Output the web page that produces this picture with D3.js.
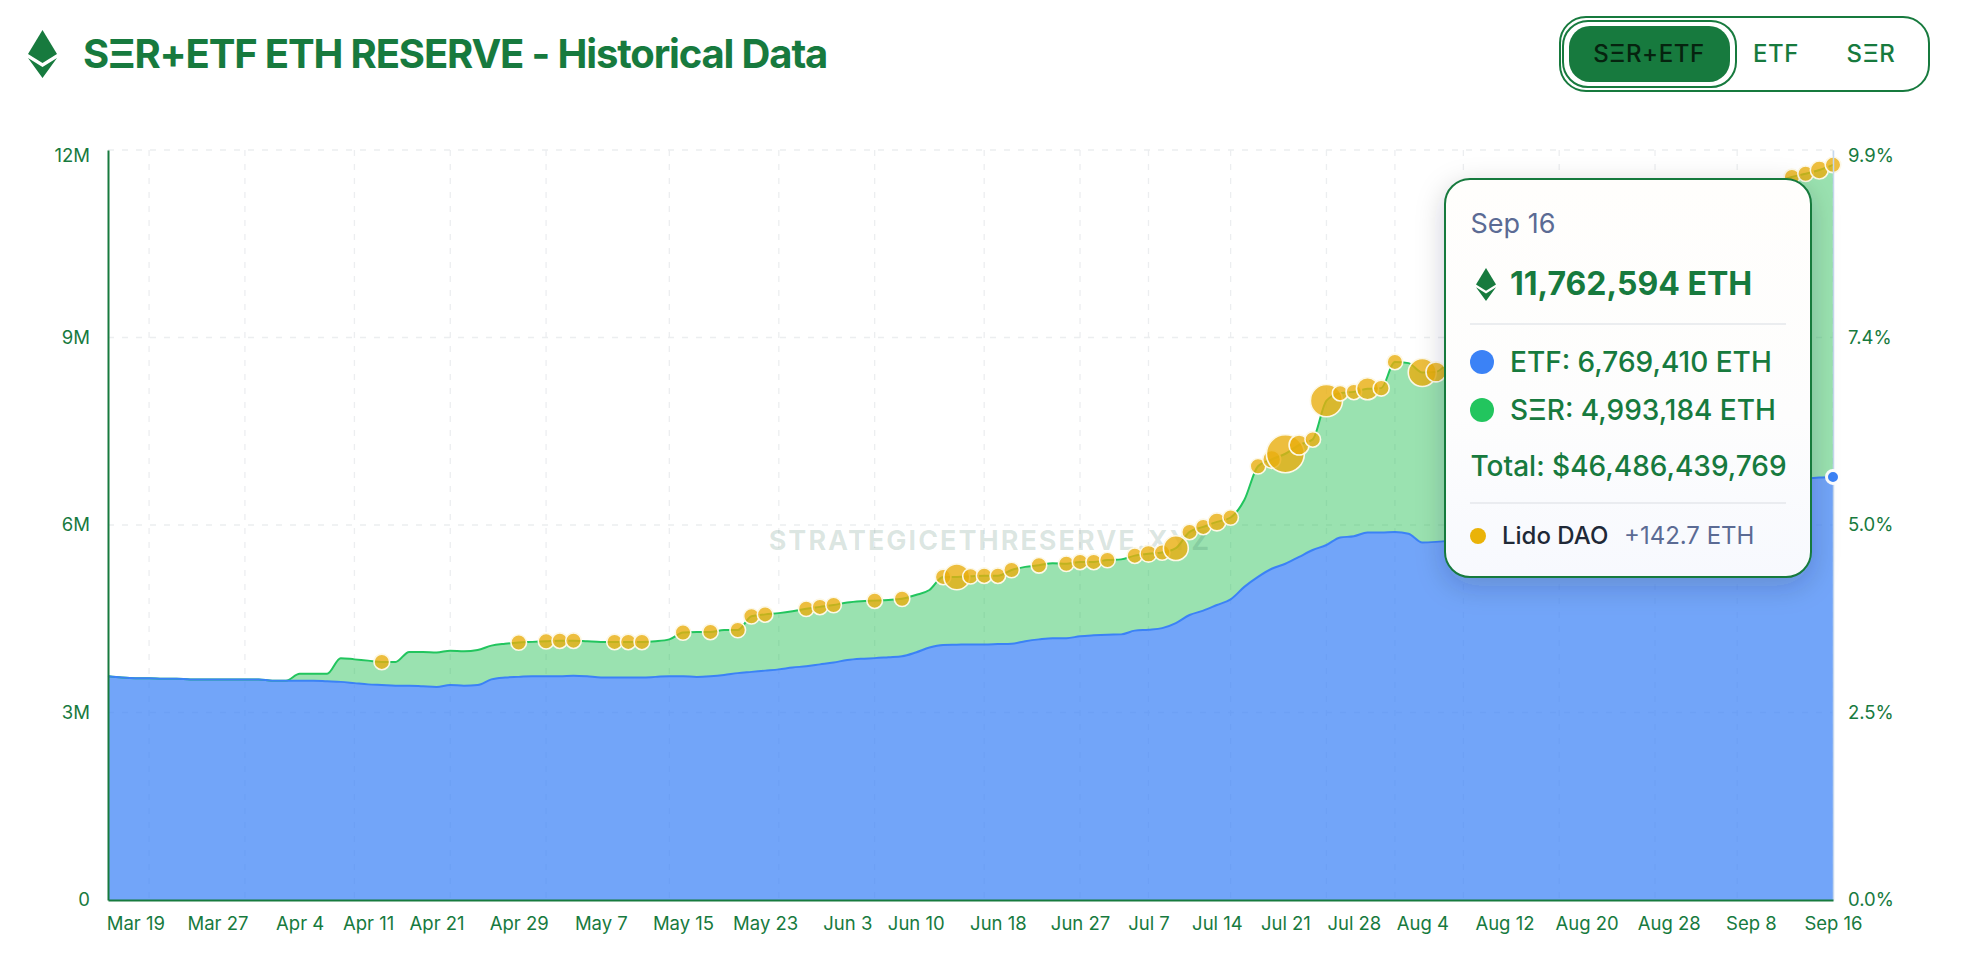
<!DOCTYPE html>
<html>
<head>
    <meta charset="utf-8">
    <title>SΞR+ETF ETH Reserve</title>
    <script src="https://d3js.org/d3.v7.min.js"></script>
    <style>
        html, body { margin: 0; background: #fff; }
        svg { display: block; font-family: Inter, "Noto Sans", sans-serif; }
    </style>
</head>
<body>
    <div id="chart"></div>

    <script>
        // US trading days, the chart's x categories
        const dates = [
            "Mar 17","Mar 18","Mar 19","Mar 20","Mar 21","Mar 24","Mar 25","Mar 26","Mar 27","Mar 28","Mar 31",
            "Apr 1","Apr 2","Apr 3","Apr 4","Apr 7","Apr 8","Apr 9","Apr 10","Apr 11","Apr 14","Apr 15","Apr 16","Apr 17","Apr 21","Apr 22","Apr 23","Apr 24","Apr 25","Apr 28","Apr 29","Apr 30",
            "May 1","May 2","May 5","May 6","May 7","May 8","May 9","May 12","May 13","May 14","May 15","May 16","May 19","May 20","May 21","May 22","May 23","May 27","May 28","May 29","May 30",
            "Jun 2","Jun 3","Jun 4","Jun 5","Jun 6","Jun 9","Jun 10","Jun 11","Jun 12","Jun 13","Jun 16","Jun 17","Jun 18","Jun 20","Jun 23","Jun 24","Jun 25","Jun 26","Jun 27","Jun 30",
            "Jul 1","Jul 2","Jul 3","Jul 7","Jul 8","Jul 9","Jul 10","Jul 11","Jul 14","Jul 15","Jul 16","Jul 17","Jul 18","Jul 21","Jul 22","Jul 23","Jul 24","Jul 25","Jul 28","Jul 29","Jul 30","Jul 31",
            "Aug 1","Aug 4","Aug 5","Aug 6","Aug 7","Aug 8","Aug 11","Aug 12","Aug 13","Aug 14","Aug 15","Aug 18","Aug 19","Aug 20","Aug 21","Aug 22","Aug 25","Aug 26","Aug 27","Aug 28","Aug 29",
            "Sep 2","Sep 3","Sep 4","Sep 5","Sep 8","Sep 9","Sep 10","Sep 11","Sep 12","Sep 15","Sep 16"
        ];

        // ETF holdings, million ETH
        const etfReserve = [
            3.58,3.56,3.55,3.55,3.54,3.54,3.53,3.53,3.53,3.53,3.53,
            3.53,3.51,3.51,3.51,3.51,3.50,3.49,3.47,3.45,3.44,3.43,3.43,3.42,3.41,3.44,3.43,3.44,3.53,3.56,3.57,3.58,
            3.58,3.58,3.59,3.58,3.56,3.56,3.56,3.56,3.57,3.58,3.58,3.57,3.58,3.60,3.63,3.65,3.67,3.69,3.72,3.74,3.77,
            3.80,3.84,3.86,3.87,3.885,3.90,3.96,4.04,4.08,4.085,4.09,4.09,4.095,4.10,4.14,4.17,4.19,4.19,4.22,4.235,
            4.245,4.25,4.31,4.325,4.35,4.43,4.56,4.63,4.72,4.81,5.01,5.17,5.30,5.38,5.49,5.60,5.68,5.80,5.82,5.88,5.88,5.89,
            5.86,5.72,5.73,5.75,5.78,5.83,5.92,6.05,6.18,6.28,6.35,6.30,6.22,6.25,6.38,6.45,6.42,6.47,6.55,6.62,6.60,
            6.50,6.45,6.42,6.38,6.42,6.45,6.52,6.60,6.74,6.76,6.76941
        ];

        // ETF + SER, million ETH
        const totalReserve = [
            3.58,3.56,3.55,3.55,3.54,3.54,3.53,3.53,3.53,3.53,3.53,
            3.53,3.51,3.51,3.62,3.62,3.62,3.87,3.85,3.83,3.81,3.81,3.97,3.97,3.96,3.99,3.98,4.00,4.07,4.10,4.12,4.13,
            4.14,4.15,4.15,4.14,4.13,4.13,4.13,4.13,4.14,4.17,4.28,4.29,4.29,4.32,4.32,4.54,4.57,4.59,4.62,4.66,4.69,
            4.72,4.76,4.78,4.79,4.80,4.82,4.88,4.96,5.17,5.17,5.18,5.19,5.19,5.28,5.33,5.355,5.39,5.38,5.41,5.41,
            5.44,5.45,5.51,5.54,5.56,5.63,5.89,5.97,6.05,6.12,6.40,6.94,7.05,7.14,7.28,7.37,7.99,8.11,8.13,8.18,8.19,8.61,
            8.59,8.44,8.45,8.62,8.75,8.90,9.10,9.45,9.75,10.10,10.30,10.35,10.40,10.50,10.70,10.85,10.95,11.00,11.05,11.10,11.15,
            11.20,11.25,11.30,11.35,11.40,11.42,11.50,11.57,11.62,11.68,11.762594
        ];

        // treasury purchases shown as gold bubbles
        const purchaseDates = [
            "Apr 14","Apr 29","May 1","May 2","May 5","May 8","May 9","May 12","May 15","May 19","May 21","May 22","May 23","May 29","May 30",
            "Jun 2","Jun 5","Jun 9","Jun 12","Jun 13","Jun 16","Jun 17","Jun 18","Jun 20","Jun 24","Jun 26","Jun 27","Jun 30",
            "Jul 1","Jul 3","Jul 7","Jul 8","Jul 9","Jul 10","Jul 11","Jul 14","Jul 15","Jul 17","Jul 18","Jul 21","Jul 22","Jul 23","Jul 24","Jul 25","Jul 28","Jul 29","Jul 30","Jul 31",
            "Aug 4","Aug 5","Sep 11","Sep 12","Sep 15","Sep 16"
        ];
        const purchaseEth = [
            30000,40000,45000,40000,40000,40000,40000,40000,40000,40000,45000,45000,45000,45000,45000,
            48000,50000,45000,60000,260000,70000,50000,50000,50000,50000,50000,45000,50000,
            50000,50000,110000,60000,240000,62000,70000,125000,85000,76000,125000,560000,155000,88000,400000,76000,76000,190000,100000,76000,
            305000,155000,50000,76000,125000,76000
        ];

        const xTickLabels = ["Mar 19","Mar 27","Apr 4","Apr 11","Apr 21","Apr 29","May 7","May 15","May 23","Jun 3","Jun 10","Jun 18","Jun 27","Jul 7","Jul 14","Jul 21","Jul 28","Aug 4","Aug 12","Aug 20","Aug 28","Sep 8","Sep 16"];
        const gridDates = ["Mar 20","Mar 31","Apr 10","Apr 22","May 1","May 14","May 27","Jun 5","Jun 17","Jun 27","Jul 7","Jul 15","Jul 24","Jul 31","Aug 7","Aug 18","Aug 27","Sep 5","Sep 16"];
        const yTicks = [0, 3, 6, 9, 12];
        const ethSupply = 121; // million ETH, for the right axis share

        const tabs = ["SΞR+ETF", "ETF", "SΞR"];

        const green = "#177a3e";
        const width = 1967, height = 961;
        const plotLeft = 108, plotRight = 1833, plotTop = 150, plotBottom = 900;

        const svg = d3.select("#chart").append("svg")
            .attr("width", width)
            .attr("height", height);

        const defs = svg.append("defs");
        const shadow = defs.append("filter").attr("id", "tipShadow")
            .attr("x", "-20%").attr("y", "-20%").attr("width", "140%").attr("height", "140%");
        shadow.append("feDropShadow")
            .attr("dx", 0).attr("dy", 8).attr("stdDeviation", 14)
            .attr("flood-color", "#1e293b").attr("flood-opacity", 0.2);
        const tipFill = defs.append("linearGradient").attr("id", "tipFill")
            .attr("x1", 0).attr("y1", 0).attr("x2", 0).attr("y2", 1);
        tipFill.append("stop").attr("offset", "0%").attr("stop-color", "#fffefc");
        tipFill.append("stop").attr("offset", "60%").attr("stop-color", "#fdfdfd");
        tipFill.append("stop").attr("offset", "100%").attr("stop-color", "#f7f9fe");

        const x = d3.scalePoint().domain(dates).range([plotLeft, plotRight]);
        const y = d3.scaleLinear().domain([0, 12]).range([plotBottom, plotTop]);
        const yShare = d3.scaleLinear().domain([0, 12 / ethSupply * 100]).range([plotBottom, plotTop]);
        const radius = d3.scaleSqrt().domain([0, 560000]).range([0, 19]);

        // grid
        const grid = svg.append("g")
            .attr("stroke", "#eceef0")
            .attr("stroke-width", 1.3)
            .attr("stroke-dasharray", "6 8");
        grid.selectAll("line.h").data(yTicks.filter(d => d > 0)).join("line")
            .attr("class", "h")
            .attr("x1", plotLeft).attr("x2", plotRight)
            .attr("y1", d => y(d)).attr("y2", d => y(d));
        grid.selectAll("line.v").data(gridDates).join("line")
            .attr("class", "v")
            .attr("x1", d => x(d)).attr("x2", d => x(d))
            .attr("y1", plotTop).attr("y2", plotBottom);

        // stacked areas
        const curve = d3.curveMonotoneX;
        const etfArea = d3.area().curve(curve)
            .x((d, i) => x(dates[i]))
            .y0(plotBottom)
            .y1(d => y(d));
        const serArea = d3.area().curve(curve)
            .x((d, i) => x(dates[i]))
            .y0((d, i) => y(etfReserve[i]))
            .y1(d => y(d));
        const edge = d3.line().curve(curve).x((d, i) => x(dates[i])).y(d => y(d));

        svg.append("path").attr("d", serArea(totalReserve))
            .attr("fill", "#1fbf4f").attr("fill-opacity", 0.45);
        svg.append("path").attr("d", etfArea(etfReserve))
            .attr("fill", "#3b82f6").attr("fill-opacity", 0.72);
        svg.append("path").attr("d", edge(totalReserve))
            .attr("fill", "none").attr("stroke", "#22c55e").attr("stroke-width", 2);
        svg.append("path").attr("d", edge(etfReserve))
            .attr("fill", "none").attr("stroke", "#3b82f6").attr("stroke-width", 2);

        // watermark
        svg.append("text")
            .attr("x", 990).attr("y", 550)
            .attr("text-anchor", "middle")
            .attr("font-size", 27).attr("font-weight", 700)
            .attr("letter-spacing", 2)
            .attr("fill", "#1f5f4a").attr("fill-opacity", 0.16)
            .text("STRATEGICETHRESERVE.XYZ");

        // purchase bubbles
        svg.append("g").selectAll("circle")
            .data(purchaseDates)
            .join("circle")
            .attr("cx", d => x(d))
            .attr("cy", d => y(totalReserve[dates.indexOf(d)]))
            .attr("r", (d, i) => Math.max(7.8, radius(purchaseEth[i])))
            .attr("fill", "#e8ae0e")
            .attr("fill-opacity", 0.8)
            .attr("stroke", "#fdf8e6")
            .attr("stroke-width", 1.6);

        // axes
        const yAxis = svg.append("g")
            .attr("transform", `translate(${plotLeft},0)`)
            .call(d3.axisLeft(y).tickValues(yTicks).tickSize(0).tickPadding(18)
                .tickFormat(d => d === 0 ? "0" : d + "M"));
        const yAxisRight = svg.append("g")
            .attr("transform", `translate(${plotRight},0)`)
            .call(d3.axisRight(yShare).tickValues(yTicks.map(d => d / ethSupply * 100)).tickSize(0).tickPadding(15)
                .tickFormat(d => d.toFixed(1) + "%"));
        const xAxis = svg.append("g")
            .attr("transform", `translate(0,${plotBottom})`)
            .call(d3.axisBottom(x).tickValues(xTickLabels).tickSize(0).tickPadding(17));

        [yAxis, yAxisRight, xAxis].forEach(a => {
            a.selectAll("text")
                .attr("font-family", "Inter, sans-serif")
                .attr("font-size", 18.5)
                .attr("fill", green);
        });
        yAxis.select(".domain").attr("stroke", green).attr("stroke-width", 2);
        xAxis.select(".domain").attr("stroke", green).attr("stroke-width", 2);
        yAxisRight.select(".domain").attr("stroke", "#c5d8ee").attr("stroke-width", 1.5);

        // the top labels sit just under the tick
        yAxis.selectAll(".tick text").filter(d => d === 12).attr("dy", "0.6em");
        yAxisRight.selectAll(".tick text").filter(d => d > 9.9).attr("dy", "0.6em");

        // active point at the last day
        svg.append("circle")
            .attr("cx", x("Sep 16"))
            .attr("cy", y(etfReserve[etfReserve.length - 1]))
            .attr("r", 6.5)
            .attr("fill", "#3b82f6")
            .attr("stroke", "#fff")
            .attr("stroke-width", 3);

        // eth logo
        function ethIcon(g) {
            g.append("path").attr("d", "M14.5 0 L29 24 L14.5 33 L0 24 Z");
            g.append("path").attr("d", "M0 28 L14.5 37 L29 28 L14.5 48 Z");
        }

        // header
        svg.append("g").attr("transform", "translate(28,30)").attr("fill", green).call(ethIcon);
        svg.append("text")
            .attr("x", 83).attr("y", 68)
            .attr("font-size", 40).attr("font-weight", 700)
            .attr("letter-spacing", -1.15)
            .attr("fill", green)
            .text("SΞR+ETF ETH RESERVE - Historical Data");

        // toggle
        svg.append("rect")
            .attr("x", 1560).attr("y", 17).attr("width", 369).attr("height", 74).attr("rx", 26)
            .attr("fill", "#fff").attr("stroke", green).attr("stroke-width", 2);
        svg.append("rect")
            .attr("x", 1563).attr("y", 21).attr("width", 173).attr("height", 66).attr("rx", 25)
            .attr("fill", "#fff").attr("stroke", green).attr("stroke-width", 2);
        svg.append("rect")
            .attr("x", 1569).attr("y", 26).attr("width", 161).attr("height", 56).attr("rx", 21)
            .attr("fill", green);
        const tabX = [1649, 1776, 1871];
        svg.selectAll("text.tab").data(tabs).join("text")
            .attr("class", "tab")
            .attr("x", (d, i) => tabX[i]).attr("y", 62)
            .attr("text-anchor", "middle")
            .attr("font-size", 24).attr("font-weight", 500)
            .attr("letter-spacing", 0.6)
            .attr("fill", (d, i) => i === 0 ? "#06230f" : green)
            .text(d => d);

        // tooltip
        const tip = svg.append("g");
        tip.append("rect")
            .attr("x", 1445).attr("y", 179).attr("width", 366).attr("height", 398).attr("rx", 25)
            .attr("fill", "url(#tipFill)")
            .attr("stroke", green).attr("stroke-width", 2)
            .attr("filter", "url(#tipShadow)");

        function tipText(tx, ty, size, weight, color, str) {
            return tip.append("text")
                .attr("x", tx).attr("y", ty)
                .attr("font-size", size).attr("font-weight", weight)
                .attr("fill", color)
                .text(str);
        }
        function money(v) { return d3.format(",")(v); }

        const lastEtf = 6769410, lastTotal = 11762594;
        tipText(1470.5, 233, 27, 400, "#5b6b94", "Sep 16");
        tip.append("g").attr("transform", "translate(1476,268) scale(0.69)").attr("fill", green).call(ethIcon);
        tipText(1510, 295, 32, 700, green, money(lastTotal) + " ETH");
        tip.append("line").attr("x1", 1470).attr("x2", 1786).attr("y1", 324).attr("y2", 324)
            .attr("stroke", "#e5e7eb").attr("stroke-width", 1.5);
        tip.append("circle").attr("cx", 1482).attr("cy", 362).attr("r", 12).attr("fill", "#3b82f6");
        tipText(1510, 372, 28, 500, green, "ETF: " + money(lastEtf) + " ETH");
        tip.append("circle").attr("cx", 1482).attr("cy", 410).attr("r", 12).attr("fill", "#22c55e");
        tipText(1510, 420, 28, 500, green, "SΞR: " + money(lastTotal - lastEtf) + " ETH");
        tipText(1470.5, 476, 28, 500, green, "Total: $46,486,439,769");
        tip.append("line").attr("x1", 1470).attr("x2", 1786).attr("y1", 503).attr("y2", 503)
            .attr("stroke", "#e5e7eb").attr("stroke-width", 1.5);
        tip.append("circle").attr("cx", 1478).attr("cy", 536).attr("r", 8).attr("fill", "#eab308");
        tipText(1502, 544, 24, 500, "#1f2937", "Lido DAO");
        tipText(1624, 544, 24, 400, "#5b6b94", "+142.7 ETH");
    </script>
</body>
</html>
